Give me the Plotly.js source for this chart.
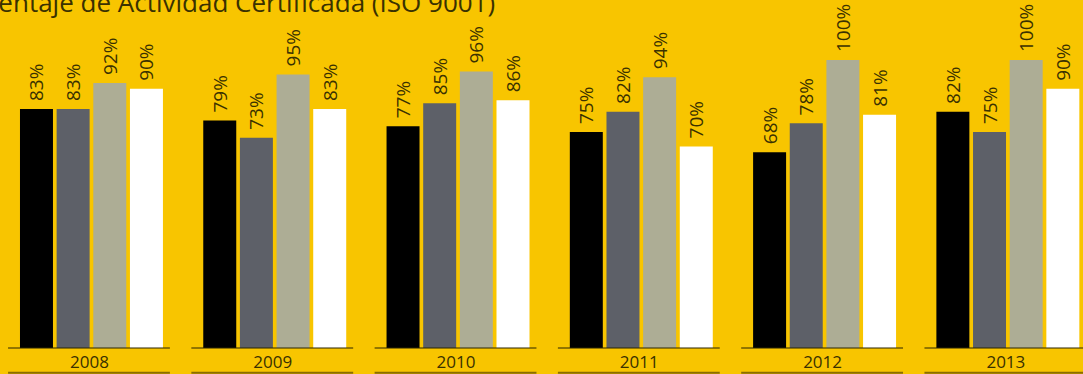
<!DOCTYPE html>
<html>
<head>
<meta charset="utf-8">
<script src="https://cdn.plot.ly/plotly-3.0.1.min.js"></script>
<style>
html,body{margin:0;padding:0;background:#F8C500;overflow:hidden;}
#chart{width:1083px;height:374px;}
</style>
</head>
<body>
<div id="chart"></div>
<script>
const years = ["2008", "2009", "2010", "2011", "2012", "2013"];
const serieA = [83, 79, 77, 75, 68, 82];
const serieB = [83, 73, 85, 82, 78, 75];
const serieC = [92, 95, 96, 94, 100, 100];
const serieD = [90, 83, 86, 70, 81, 90];
const seriesColors = ["#000000", "#5D6068", "#ADAD95", "#FFFFFF"];
const titleText = "Porcentaje de Actividad Certificada (ISO 9001)";

const BG = "#F8C500";
const TXT = "#3a3100";
const labelFont = {family: "Open Sans, Liberation Sans, sans-serif", size: 19, color: TXT};

const allSeries = [serieA, serieB, serieC, serieD];
const traces = allSeries.map((vals, k) => ({
  type: "bar",
  x: years,
  y: vals,
  marker: {color: seriesColors[k], line: {width: 0}},
  text: vals.map(v => "\u00A0" + v + "%"),
  textposition: "outside",
  textangle: -90,
  textfont: labelFont,
  constraintext: "none",
  cliponaxis: false,
  hoverinfo: "none",
  showlegend: false
}));

const shapes = [];
years.forEach((yr, i) => {
  shapes.push({type: "line", xref: "x", yref: "paper", x0: i - 0.455, x1: i + 0.428, y0: 0, y1: 0,
    line: {color: "#2b2500", width: 1}});
  shapes.push({type: "line", xref: "x", yref: "paper", x0: i - 0.455, x1: i + 0.428, y0: -0.071, y1: -0.071,
    line: {color: "#8a6d00", width: 2}});
});

const layout = {
  width: 1083, height: 374,
  paper_bgcolor: BG, plot_bgcolor: BG,
  margin: {l: 0, r: 0, t: 0, b: 26, pad: 0},
  barmode: "group",
  bargap: 0.2,
  bargroupgap: 0.1,
  xaxis: {
    type: "category",
    range: [-0.499, 5.41],
    showgrid: false, zeroline: false, showline: false,
    ticks: "",
    tickvals: years, ticktext: years,
    tickfont: {family: "Open Sans, Liberation Sans, sans-serif", size: 17, color: TXT},
    ticklabelshift: -2,
    ticklabelstandoff: 2,
    fixedrange: true
  },
  yaxis: {
    range: [0, 120.83],
    showgrid: false, zeroline: false, showline: false,
    showticklabels: false, ticks: "",
    fixedrange: true
  },
  shapes: shapes,
  annotations: [{
    text: titleText,
    xref: "paper", yref: "paper",
    x: 497 / 1083, y: 1.052,
    xanchor: "right", yanchor: "top",
    showarrow: false,
    font: {family: "Open Sans, Liberation Sans, sans-serif", size: 26, color: TXT}
  }]
};

Plotly.newPlot("chart", traces, layout, {displayModeBar: false, staticPlot: true});
</script>
</body>
</html>
